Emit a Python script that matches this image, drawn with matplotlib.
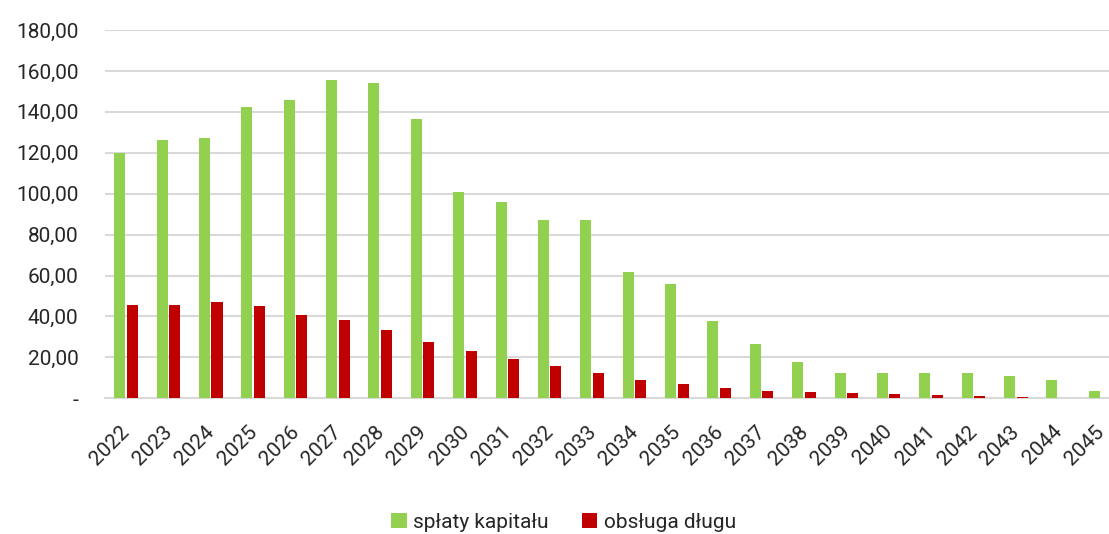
import matplotlib
matplotlib.use("Agg")
import matplotlib.pyplot as plt
import matplotlib.transforms as mtransforms
import numpy as np
from matplotlib.ticker import FuncFormatter

years = [str(y) for y in range(2022, 2046)]
splaty_kapitalu = [120.0, 126.2, 127.2, 142.2, 145.8, 155.6, 154.3, 136.5, 101.0, 96.0,
                   87.0, 87.0, 61.7, 55.9, 37.9, 26.4, 17.7, 12.4, 12.4, 12.4,
                   12.4, 11.0, 8.9, 3.4]
obsluga_dlugu = [45.4, 45.6, 46.9, 45.0, 40.6, 38.1, 33.5, 27.7, 23.0, 19.3,
                 15.8, 12.3, 9.1, 6.8, 4.9, 3.7, 2.9, 2.4, 1.9, 1.5,
                 1.1, 0.6, 0.0, 0.0]
series_labels = ["spłaty kapitału", "obsługa długu"]
colors = ["#92d050", "#c00000"]

plt.rcParams['font.family'] = ['Roboto', 'DejaVu Sans']

fig = plt.figure(figsize=(11.09, 5.34), dpi=100)
ax = fig.add_axes([0.0945, 0.2541, 0.917, 0.6897])

x = np.arange(len(years))
w = 0.26
ax.bar(x - 0.148, splaty_kapitalu, width=w, color=colors[0], label=series_labels[0], zorder=3)
ax.bar(x + 0.148, obsluga_dlugu, width=w, color=colors[1], label=series_labels[1], zorder=3)

ax.set_xlim(-0.5, len(years) - 0.5)
ax.set_ylim(0, 180)
ax.set_yticks(np.arange(0, 181, 20))

def fmt(v, pos):
    if abs(v) < 1e-9:
        return "-"
    return f"{v:.2f}".replace(".", ",")

ax.yaxis.set_major_formatter(FuncFormatter(fmt))
ax.grid(axis='y', color='#d9d9d9', linewidth=1.5, zorder=0)
ax.set_axisbelow(True)
for s in ['top', 'right', 'left']:
    ax.spines[s].set_visible(False)
ax.spines['bottom'].set_color('#d9d9d9')
ax.spines['bottom'].set_linewidth(1.5)

ax.tick_params(axis='y', length=0, pad=19, labelsize=15, labelcolor='#262626')
ax.tick_params(axis='x', length=0, pad=17, labelsize=15, labelcolor='#262626')
ax.set_xticks(x)
ax.set_xticklabels(years, rotation=45, ha='right', rotation_mode='anchor')
offset = mtransforms.ScaledTranslation(-6 / 100, 0, fig.dpi_scale_trans)
for lbl in ax.get_xticklabels():
    lbl.set_transform(lbl.get_transform() + offset)

leg = fig.legend(loc='center', bbox_to_anchor=(0.508, 0.022), ncol=2, frameon=False,
                 fontsize=15, handlelength=0.75, handleheight=0.75, handletextpad=0.3,
                 columnspacing=1.6)
for t in leg.get_texts():
    t.set_color('#262626')

fig.savefig("out.png", dpi=100)
